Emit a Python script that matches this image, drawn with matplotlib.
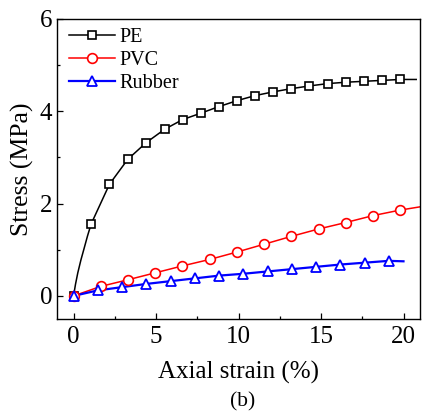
import numpy as np
import matplotlib.pyplot as plt
from matplotlib.ticker import MultipleLocator

plt.rcParams['font.family'] = ['Liberation Serif', 'DejaVu Serif']
plt.rcParams['mathtext.fontset'] = 'stix'

# PE (markers)
pe_x = [0, 1.07, 2.18, 3.29, 4.4, 5.52, 6.61, 7.72, 8.8, 9.9, 11.0, 12.08, 13.19,
        14.3, 15.4, 16.5, 17.6, 18.7, 19.8]
pe_y = [0, 1.56, 2.42, 2.96, 3.32, 3.61, 3.82, 3.96, 4.10, 4.23, 4.34, 4.42, 4.49,
        4.55, 4.60, 4.63, 4.65, 4.67, 4.69]
# PE curve near origin and its end
pe_head_x = [0.05, 0.12, 0.26, 0.45, 0.62, 0.85]
pe_head_y = [0.1, 0.25, 0.5, 0.78, 1.0, 1.3]
pe_end = (20.77, 4.69)

# PVC
pvc_x = [0, 1.64, 3.3, 4.95, 6.6, 8.25, 9.9, 11.55, 13.2, 14.85, 16.5, 18.15, 19.8]
pvc_y = [0, 0.205, 0.35, 0.50, 0.65, 0.79, 0.95, 1.12, 1.29, 1.45, 1.59, 1.74, 1.86]
pvc_end = (21.0, 1.93)

# Rubber
rub_x = [0, 1.47, 2.94, 4.41, 5.88, 7.35, 8.82, 10.29, 11.76, 13.23, 14.7, 16.17, 17.64, 19.11]
rub_y = [0, 0.12, 0.19, 0.26, 0.32, 0.38, 0.44, 0.48, 0.53, 0.58, 0.63, 0.68, 0.72, 0.76]
rub_end = (20.0, 0.75)

fig = plt.figure(figsize=(4.26, 4.11), dpi=100)
ax = fig.add_axes([57 / 426, 92 / 411, 363 / 426, 300 / 411])

# lines
ax.plot([pe_x[0]] + pe_head_x + pe_x[1:] + [pe_end[0]],
        [pe_y[0]] + pe_head_y + pe_y[1:] + [pe_end[1]], color='black', lw=1.1)
ax.plot(pvc_x + [pvc_end[0]], pvc_y + [pvc_end[1]], color='red', lw=1.1)
ax.plot(rub_x + [rub_end[0]], rub_y + [rub_end[1]], color='blue', lw=1.6)

# markers
ax.plot(pe_x, pe_y, ls='none', marker='s', ms=6.3, mfc='white', mec='black', mew=1.2)
ax.plot(pvc_x, pvc_y, ls='none', marker='o', ms=7, mfc='white', mec='red', mew=1.2)
ax.plot(rub_x, rub_y, ls='none', marker='^', ms=7.5, mfc='white', mec='blue', mew=1.3)

# legend handles
ax.plot([], [], color='black', lw=1.1, marker='s', ms=6.3, mfc='white', mec='black', mew=1.2, label='PE')
ax.plot([], [], color='red', lw=1.1, marker='o', ms=7, mfc='white', mec='red', mew=1.2, label='PVC')
ax.plot([], [], color='blue', lw=1.6, marker='^', ms=7.5, mfc='white', mec='blue', mew=1.3, label='Rubber')
h, l = ax.get_legend_handles_labels()
ax.legend(h[-3:], l[-3:], loc='upper left', frameon=False, fontsize=14.5,
          handlelength=2.3, handletextpad=0.2, labelspacing=0.2,
          borderaxespad=0.2, bbox_to_anchor=(0.0, 1.01))

ax.set_xlim(-1, 21)
ax.set_ylim(-0.5, 6)
ax.xaxis.set_major_locator(MultipleLocator(5))
ax.xaxis.set_minor_locator(MultipleLocator(2.5))
ax.yaxis.set_major_locator(MultipleLocator(2))
ax.yaxis.set_minor_locator(MultipleLocator(1))
ax.tick_params(which='both', direction='in', labelsize=18)
ax.tick_params(axis='x', pad=5)
ax.tick_params(which='major', length=4.5, width=0.9)
ax.tick_params(which='minor', length=2.5, width=0.9)
for sp in ax.spines.values():
    sp.set_linewidth(1.0)

ax.set_xlabel('Axial strain (%)', fontsize=18, labelpad=9)
ax.set_ylabel('Stress (MPa)', fontsize=18.5, labelpad=4)
fig.text(243 / 426, 1 - 402 / 411, '(b)', fontsize=15.5, ha='center', va='center')

fig.savefig('out.png', dpi=100)
